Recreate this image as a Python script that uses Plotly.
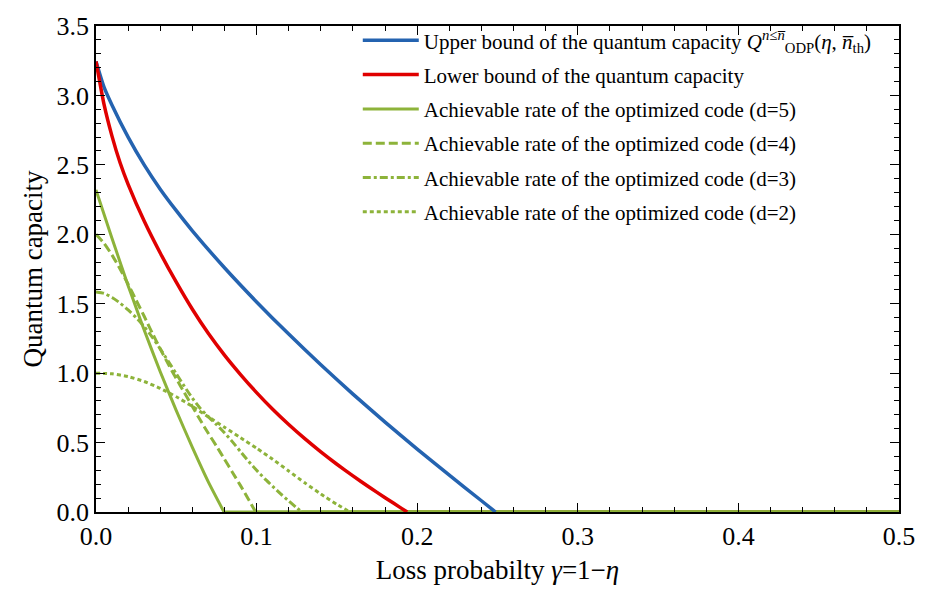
import plotly.graph_objects as go

# ---- data (curved part; each series is 0 beyond its last point up to x_end) ----
x_end = 0.5

upper_x = [0, 0.005, 0.01, 0.02, 0.03, 0.04, 0.05, 0.06, 0.08, 0.10, 0.12, 0.14, 0.16, 0.18, 0.20, 0.22, 0.24, 0.2488]
upper_y = [3.245, 3.06, 2.93, 2.70, 2.50, 2.325, 2.17, 2.025, 1.759, 1.513, 1.281, 1.061, 0.849, 0.647, 0.453, 0.265, 0.081, 0.0]

lower_x = [0, 0.005, 0.01, 0.015, 0.02, 0.03, 0.04, 0.05, 0.06, 0.07, 0.08, 0.09, 0.10, 0.11, 0.12, 0.13, 0.14, 0.15, 0.16, 0.17, 0.18, 0.19, 0.1938]
lower_y = [3.245, 2.935, 2.705, 2.515, 2.36, 2.095, 1.865, 1.655, 1.46, 1.285, 1.13, 0.99, 0.86, 0.74, 0.63, 0.528, 0.433, 0.344, 0.26, 0.18, 0.103, 0.028, 0.0]

d5_x = [0, 0.01, 0.02, 0.025, 0.03, 0.04, 0.05, 0.06, 0.07, 0.0797]
d5_y = [2.32, 1.97, 1.63, 1.47, 1.31, 1.01, 0.73, 0.465, 0.215, 0.0]

d4_x = [0, 0.005, 0.01, 0.015, 0.02, 0.025, 0.03, 0.035, 0.04, 0.045, 0.05, 0.055, 0.06, 0.065, 0.07, 0.075, 0.08, 0.085, 0.09, 0.095, 0.0994]
d4_y = [2.0, 1.935, 1.85, 1.75, 1.64, 1.525, 1.41, 1.29, 1.175, 1.065, 0.96, 0.86, 0.76, 0.66, 0.565, 0.475, 0.38, 0.285, 0.19, 0.09, 0.0]

d3_x = [0, 0.005, 0.01, 0.015, 0.02, 0.025, 0.03, 0.035, 0.04, 0.045, 0.05, 0.055, 0.06, 0.065, 0.07, 0.075, 0.08, 0.085, 0.09, 0.095, 0.10, 0.105, 0.11, 0.115, 0.12, 0.125, 0.128]
d3_y = [1.585, 1.575, 1.545, 1.505, 1.455, 1.40, 1.335, 1.26, 1.175, 1.085, 0.995, 0.905, 0.82, 0.745, 0.685, 0.63, 0.57, 0.505, 0.435, 0.365, 0.30, 0.24, 0.185, 0.13, 0.08, 0.03, 0.0]

d2_x = [0, 0.01, 0.02, 0.03, 0.04, 0.05, 0.06, 0.07, 0.08, 0.09, 0.10, 0.11, 0.12, 0.13, 0.14, 0.15, 0.158]
d2_y = [1.0, 0.995, 0.975, 0.94, 0.89, 0.83, 0.76, 0.685, 0.61, 0.535, 0.46, 0.38, 0.295, 0.21, 0.13, 0.055, 0.0]

x_ticks = [0.0, 0.1, 0.2, 0.3, 0.4, 0.5]
y_ticks = [0.0, 0.5, 1.0, 1.5, 2.0, 2.5, 3.0, 3.5]

names = [
    "Upper bound of the quantum capacity <i>Q</i><sup><i>n</i>≤<i>n̅</i></sup><sub>ODP</sub>(<i>η</i>, <i>n̅</i><sub>th</sub>)",
    "Lower bound of the quantum capacity",
    "Achievable rate of the optimized code (d=5)",
    "Achievable rate of the optimized code (d=4)",
    "Achievable rate of the optimized code (d=3)",
    "Achievable rate of the optimized code (d=2)",
]

BLUE = "#2463B0"
RED = "#E00000"
GREEN = "#8DB33A"
FONT = "Liberation Serif"

series = [
    (upper_x, upper_y, BLUE, "solid", 3.5),
    (lower_x, lower_y, RED, "solid", 3.5),
    (d5_x, d5_y, GREEN, "solid", 3),
    (d4_x, d4_y, GREEN, "9px,4px", 3),
    (d3_x, d3_y, GREEN, "8px,3px,3px,3px", 3),
    (d2_x, d2_y, GREEN, "4px,3px", 3),
]

fig = go.Figure()
# zero-valued tails (drawn first, underneath)
for i, (xs, ys, col, dash, w) in enumerate(series):
    fig.add_trace(go.Scatter(
        x=[xs[-1], x_end], y=[ys[-1], 0.0], mode="lines", showlegend=False,
        hoverinfo="skip", line=dict(color=col, width=w),
    ))
# curved parts
for i, ((xs, ys, col, dash, w), nm) in enumerate(zip(series, names)):
    fig.add_trace(go.Scatter(
        x=xs, y=ys, mode="lines", name=nm, legendgroup=f"g{i}",
        line=dict(color=col, width=w, dash=dash, shape="spline", smoothing=0.5),
    ))

axis_common = dict(
    showline=True, linecolor="black", linewidth=1.5, mirror="allticks",
    ticks="inside", ticklen=9, tickwidth=1.2, tickcolor="black",
    showgrid=False, zeroline=False,
    tickfont=dict(family=FONT, size=26, color="black"),
)

fig.update_xaxes(
    range=[0, 0.5], tickvals=x_ticks, ticktext=[f"{v:.1f}" for v in x_ticks],
    minor=dict(ticks="inside", dtick=0.02, ticklen=5, tickcolor="black", tickwidth=1),
    title=dict(text="Loss probabilty <i>γ</i>=1−<i>η</i>", font=dict(family=FONT, size=27, color="black"), standoff=10),
    **axis_common,
)
fig.update_yaxes(
    range=[0, 3.5], tickvals=y_ticks, ticktext=[f"{v:.1f}" for v in y_ticks],
    minor=dict(ticks="inside", dtick=0.1, ticklen=5, tickcolor="black", tickwidth=1),
    title=dict(text="Quantum capacity", font=dict(family=FONT, size=27, color="black"), standoff=6),
    **axis_common,
)

fig.update_layout(
    width=927, height=593,
    margin=dict(l=96, r=21, t=15, b=81),
    paper_bgcolor="white", plot_bgcolor="white",
    font=dict(family=FONT, color="black"),
    legend=dict(
        x=0.326, y=1.012, xanchor="left", yanchor="top",
        bgcolor="rgba(0,0,0,0)", font=dict(family=FONT, size=21, color="black"),
        tracegroupgap=4, itemwidth=56,
    ),
)

fig.write_html("out.html")
